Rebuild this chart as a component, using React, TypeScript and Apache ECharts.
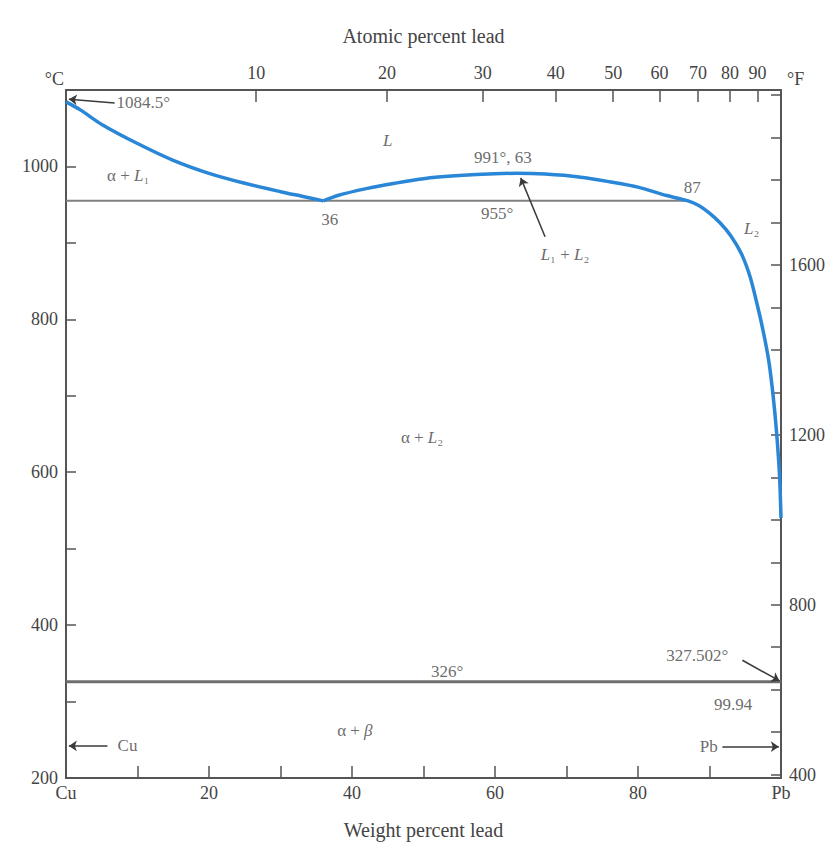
import React, { useEffect, useRef } from "react";
import * as echarts from "echarts";

// Liquidus of alpha + L1 (wt% Pb, °C)
const liquidus1X = [0, 2, 5, 10, 15, 20, 25, 30, 33, 36];
const liquidus1Y = [1084.5, 1074, 1055, 1030, 1008, 991, 978, 967, 961, 955];

// Miscibility dome + L2 liquidus (wt% Pb, °C)
const domeX = [36, 38, 42, 46, 50, 55, 60, 63, 67, 72, 76, 80, 84, 87, 88.5, 90, 91.5, 93, 94.5, 95.7, 96.6, 97.5, 98.3, 98.9, 99.4, 99.8, 100];
const domeY = [955, 962, 971, 978, 984, 988, 990.5, 991, 990, 986, 980, 973, 962, 955, 949, 939, 926, 909, 885, 855, 822, 785, 745, 700, 650, 595, 540];

// Invariant lines
const monotecticT = 955;
const monotecticEnd = 87;
const eutecticT = 326;

// Axis ticks
const atomicTicks = [10, 20, 30, 40, 50, 60, 70, 80, 90];
const fahrenheitTicks = [400, 500, 600, 700, 800, 900, 1000, 1100, 1200, 1300, 1400, 1500, 1600, 1700, 1800, 1900, 2000];
const fahrenheitLabels = [400, 800, 1200, 1600];
const weightLabels = [0, 20, 40, 60, 80, 100];

// Annotations (wt%, °C, text)
const annoX = [45, 8.7, 36.9, 61.1, 60.3, 87.6, 69.8, 95.9, 49.8, 53.3, 88.3, 93.3, 40.4, 8.6, 89.9];
const annoY = [1034, 988, 931, 1012, 938, 973, 885, 919, 646, 339, 360, 296, 262, 242, 241];
const annoText = [
  "{i|L}",
  "α + {i|L}₁",
  "36",
  "991°, 63",
  "955°",
  "87",
  "{i|L}₁ + {i|L}₂",
  "{i|L}₂",
  "α + {i|L}₂",
  "326°",
  "327.502°",
  "99.94",
  "α + {i|β}",
  "Cu",
  "Pb",
];

// Leader arrows
const arrowStartX = [6.8, 67.0, 94.6, 5.8, 91.8];
const arrowStartY = [1083, 908, 354, 242, 241];
const arrowEndX = [0.4, 63.6, 99.8, 0.4, 99.7];
const arrowEndY = [1088, 985, 327, 242, 241];

const MW_PB = 207.2;
const MW_CU = 63.55;
const atToWt = (a: number) => (a * MW_PB) / (a * MW_PB + (100 - a) * MW_CU) * 100;
const wtToAt = (w: number) => (w / MW_PB) / (w / MW_PB + (100 - w) / MW_CU) * 100;

const FONT = "Liberation Serif, Times New Roman, serif";
const TXT = "#444";
const AXIS = "#555";
const BLUE = "#2a86d6";

export default function App() {
  const ref = useRef<HTMLDivElement>(null);
  useEffect(() => {
    if (!ref.current) return;
    const chart = echarts.init(ref.current, null, { renderer: "svg" });
    const atomicWt = atomicTicks.map(atToWt);
    const option: any = {
      animation: false,
      backgroundColor: "#fff",
      grid: { left: 66, right: 53, top: 90, bottom: 88, containLabel: false },
      xAxis: [
        {
          type: "value",
          position: "bottom",
          min: 0,
          max: 100,
          interval: 10,
          name: "Weight percent lead",
          nameLocation: "middle",
          nameGap: 42,
          nameTextStyle: { fontFamily: FONT, fontSize: 20, color: TXT },
          axisLine: { onZero: false, lineStyle: { color: AXIS, width: 2 } },
          axisTick: { inside: true, length: 12, lineStyle: { color: AXIS, width: 1.5 } },
          axisLabel: {
            customValues: weightLabels,
            fontFamily: FONT,
            fontSize: 18,
            color: TXT,
            margin: 6,
            formatter: (v: number) => (v === 0 ? "Cu" : v === 100 ? "Pb" : String(v)),
          },
          splitLine: { show: false },
        },
        {
          type: "value",
          position: "top",
          min: 0,
          max: 100,
          name: "Atomic percent lead",
          nameLocation: "middle",
          nameGap: 44,
          nameTextStyle: { fontFamily: FONT, fontSize: 20, color: TXT },
          axisLine: { onZero: false, lineStyle: { color: AXIS, width: 2 } },
          axisTick: { inside: true, length: 12, customValues: atomicWt, lineStyle: { color: AXIS, width: 1.5 } },
          axisLabel: {
            customValues: atomicWt,
            fontFamily: FONT,
            fontSize: 18,
            color: TXT,
            margin: 8,
            formatter: (v: number) => String(Math.round(wtToAt(v))),
          },
          splitLine: { show: false },
        },
      ],
      yAxis: [
        {
          type: "value",
          position: "left",
          min: 200,
          max: 1100,
          interval: 100,
          name: "°C",
          nameLocation: "end",
          nameGap: 2,
          nameTextStyle: { fontFamily: FONT, fontSize: 18, color: TXT, align: "right", padding: [0, 2, 0, 0] },
          axisLine: { show: true, onZero: false, lineStyle: { color: AXIS, width: 2 } },
          axisTick: { show: true, inside: true, length: 10, lineStyle: { color: AXIS, width: 1.5 } },
          axisLabel: {
            fontFamily: FONT,
            fontSize: 18,
            color: TXT,
            margin: 8,
            formatter: (v: number) => (v % 200 === 0 && v <= 1000 ? String(v) : ""),
          },
          splitLine: { show: false },
        },
        {
          type: "value",
          position: "right",
          min: 392,
          max: 2012,
          name: "°F",
          nameLocation: "end",
          nameGap: 2,
          nameTextStyle: { fontFamily: FONT, fontSize: 18, color: TXT, align: "left", padding: [0, 0, 0, 6] },
          axisLine: { show: true, onZero: false, lineStyle: { color: AXIS, width: 2 } },
          axisTick: { show: true, inside: true, length: 10, customValues: fahrenheitTicks, lineStyle: { color: AXIS, width: 1.5 } },
          axisLabel: {
            customValues: fahrenheitLabels,
            fontFamily: FONT,
            fontSize: 18,
            color: TXT,
            margin: 8,
            formatter: (v: number) => String(v),
          },
          splitLine: { show: false },
        },
      ],
      series: [
        {
          type: "line",
          xAxisIndex: 0,
          yAxisIndex: 0,
          data: [[0, monotecticT], [monotecticEnd, monotecticT]],
          showSymbol: false,
          lineStyle: { color: "#808080", width: 2 },
          z: 2,
        },
        {
          type: "line",
          xAxisIndex: 0,
          yAxisIndex: 0,
          data: [[0, eutecticT], [100, eutecticT]],
          showSymbol: false,
          lineStyle: { color: "#6e6e6e", width: 3 },
          z: 2,
        },
        {
          type: "line",
          xAxisIndex: 0,
          yAxisIndex: 0,
          data: liquidus1X.map((x, i) => [x, liquidus1Y[i]]),
          showSymbol: false,
          smooth: 0.3,
          lineStyle: { color: BLUE, width: 3.5 },
          z: 3,
        },
        {
          type: "line",
          xAxisIndex: 0,
          yAxisIndex: 0,
          data: domeX.map((x, i) => [x, domeY[i]]),
          showSymbol: false,
          smooth: 0.25,
          lineStyle: { color: BLUE, width: 3.5 },
          z: 3,
        },
        {
          type: "lines",
          coordinateSystem: "cartesian2d",
          xAxisIndex: 0,
          yAxisIndex: 0,
          symbol: ["none", "arrow"],
          symbolSize: 8,
          lineStyle: { color: "#3a3a3a", width: 1.5, opacity: 1 },
          data: arrowStartX.map((x, i) => ({
            coords: [
              [x, arrowStartY[i]],
              [arrowEndX[i], arrowEndY[i]],
            ],
          })),
          z: 4,
        },
        {
          type: "scatter",
          xAxisIndex: 0,
          yAxisIndex: 0,
          symbolSize: 1,
          itemStyle: { color: "rgba(0,0,0,0)" },
          label: {
            show: true,
            position: "inside",
            fontFamily: FONT,
            fontSize: 17,
            color: TXT,
            formatter: (p: any) => p.data.text,
            rich: {
              i: { fontFamily: FONT, fontSize: 17, color: TXT, fontStyle: "italic" },
            },
          },
          data: annoX.map((x, i) => ({ value: [x, annoY[i]], text: annoText[i] })),
          z: 5,
        },
        {
          type: "scatter",
          xAxisIndex: 0,
          yAxisIndex: 0,
          symbolSize: 1,
          itemStyle: { color: "rgba(0,0,0,0)" },
          label: {
            show: true,
            position: "right",
            distance: 0,
            fontFamily: FONT,
            fontSize: 17,
            color: TXT,
            formatter: "1084.5°",
          },
          data: [[7.0, 1083]],
          z: 5,
        },
      ],
    };
    chart.setOption(option);
    return () => chart.dispose();
  }, []);
  return <div ref={ref} style={{ width: 834, height: 866, position: "absolute", left: 0, top: 0 }} />;
}
